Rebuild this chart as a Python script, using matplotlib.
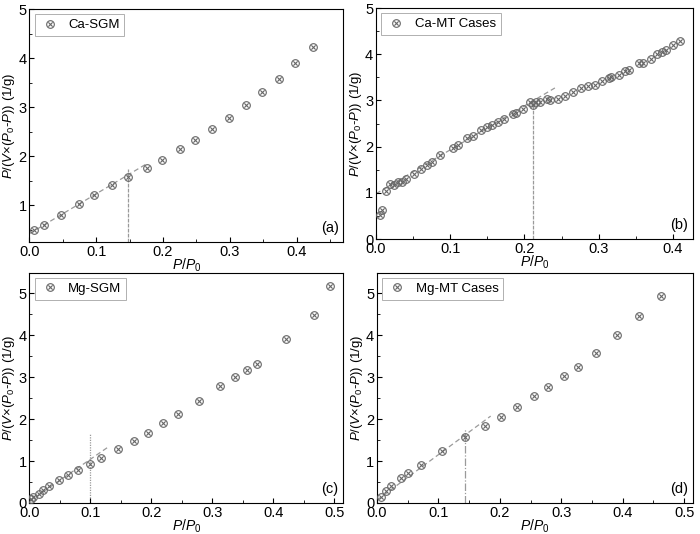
import numpy as np
import matplotlib
matplotlib.use('Agg')
import matplotlib.pyplot as plt
from matplotlib.path import Path

plt.rcParams['font.family'] = ['Liberation Sans', 'DejaVu Sans']
plt.rcParams['mathtext.fontset'] = 'custom'
plt.rcParams['mathtext.rm'] = 'Liberation Sans'
plt.rcParams['mathtext.it'] = 'Liberation Sans:italic'

#%% DATA
ca_sgm_x = [0.0075, 0.022, 0.047, 0.074, 0.097, 0.123, 0.147, 0.176, 0.199, 0.225,
            0.248, 0.274, 0.299, 0.325, 0.348, 0.373, 0.397, 0.424]
ca_sgm_y = [0.50, 0.59, 0.80, 1.03, 1.21, 1.42, 1.58, 1.75, 1.93, 2.14,
            2.32, 2.55, 2.78, 3.05, 3.31, 3.58, 3.89, 4.23]

ca_mt_x = [0.005, 0.0085, 0.013, 0.019, 0.024, 0.030, 0.035, 0.041, 0.051, 0.060,
           0.069, 0.076, 0.086, 0.104, 0.111, 0.123, 0.131, 0.142, 0.149, 0.156,
           0.165, 0.173, 0.184, 0.189, 0.198, 0.207, 0.212, 0.216, 0.221, 0.230,
           0.234, 0.245, 0.254, 0.266, 0.276, 0.286, 0.295, 0.305, 0.314, 0.317,
           0.327, 0.335, 0.341, 0.354, 0.360, 0.370, 0.379, 0.385, 0.391, 0.400, 0.410]
ca_mt_y = [0.51, 0.63, 1.04, 1.19, 1.16, 1.23, 1.24, 1.30, 1.41, 1.51,
           1.61, 1.67, 1.82, 1.98, 2.03, 2.18, 2.24, 2.37, 2.43, 2.47,
           2.53, 2.60, 2.70, 2.73, 2.82, 2.96, 2.89, 2.96, 2.97, 3.03,
           3.01, 3.04, 3.09, 3.18, 3.27, 3.31, 3.34, 3.41, 3.49, 3.50,
           3.56, 3.63, 3.66, 3.80, 3.82, 3.89, 4.01, 4.05, 4.09, 4.19, 4.29]

mg_sgm_x = [0.003, 0.006, 0.016, 0.023, 0.033, 0.049, 0.064, 0.080, 0.099, 0.118,
            0.145, 0.172, 0.195, 0.220, 0.244, 0.278, 0.313, 0.337, 0.357, 0.374,
            0.421, 0.467, 0.493]
mg_sgm_y = [0.10, 0.14, 0.21, 0.30, 0.41, 0.54, 0.67, 0.79, 0.94, 1.06,
            1.29, 1.48, 1.67, 1.90, 2.12, 2.44, 2.78, 2.99, 3.17, 3.32,
            3.91, 4.48, 5.16]

mg_mt_x = [0.0065, 0.015, 0.023, 0.039, 0.051, 0.071, 0.106, 0.143, 0.176, 0.202,
           0.228, 0.255, 0.278, 0.305, 0.327, 0.357, 0.391, 0.426, 0.462]
mg_mt_y = [0.15, 0.28, 0.40, 0.59, 0.71, 0.91, 1.24, 1.57, 1.84, 2.04,
           2.29, 2.54, 2.77, 3.02, 3.25, 3.57, 4.01, 4.45, 4.92]

# linear BET range: fit line end points and the cut-off P/P0
fit_x = {'a': [0.0, 0.175], 'b': [0.0, 0.241], 'c': [0.0, 0.129], 'd': [0.0, 0.185]}
fit_y = {'a': [0.42, 1.84], 'b': [0.98, 3.27], 'c': [0.04, 1.33], 'd': [0.07, 2.07]}
cut_x = {'a': 0.148, 'b': 0.212, 'c': 0.100, 'd': 0.143}
cut_top = {'a': 1.74, 'b': 2.92, 'c': 1.67, 'd': 1.78}

names = {'a': 'Ca-SGM', 'b': 'Ca-MT Cases', 'c': 'Mg-SGM', 'd': 'Mg-MT Cases'}
xs = {'a': ca_sgm_x, 'b': ca_mt_x, 'c': mg_sgm_x, 'd': mg_mt_x}
ys = {'a': ca_sgm_y, 'b': ca_mt_y, 'c': mg_sgm_y, 'd': mg_mt_y}

#%% circle with a cross marker
circ = Path.unit_circle()
k = 0.55
cross = Path([(-k, -k), (k, k), (-k, k), (k, -k)],
             [Path.MOVETO, Path.LINETO, Path.MOVETO, Path.LINETO])
otimes = Path.make_compound_path(circ, cross)

fig = plt.figure(figsize=(7, 5.34), dpi=100)
pos = {'a': [0.0419, 0.5468, 0.4486, 0.4363],
       'b': [0.5371, 0.5524, 0.4529, 0.4326],
       'c': [0.0419, 0.0581, 0.4486, 0.4307],
       'd': [0.5386, 0.0581, 0.4519, 0.4307]}
lims = {'a': ((0, 0.47), (0.25, 5)), 'b': ((0, 0.427), (0, 5)),
        'c': ((0, 0.515), (0, 5.48)), 'd': ((0, 0.515), (0, 5.48))}
vstyle = {'a': (0, (3, 1)), 'b': (0, (3, 1)), 'c': (0, (1, 1)), 'd': (0, (6, 1.5, 1, 1.5))}

mcol = '#666666'
for key in ['a', 'b', 'c', 'd']:
    ax = fig.add_axes(pos[key])
    ax.plot(fit_x[key], fit_y[key], color='#9a9a9a', lw=0.9, ls=(0, (4, 2.5)), zorder=1)
    ax.plot([cut_x[key], cut_x[key]], [lims[key][1][0], cut_top[key]],
            color='#9a9a9a', lw=0.9, ls=vstyle[key], zorder=1)
    ax.plot(xs[key], ys[key], ls='none', marker=otimes, ms=5.5, mfc='none',
            mec=mcol, mew=0.8, label=names[key], zorder=3)
    ax.set_xlim(*lims[key][0])
    ax.set_ylim(*lims[key][1])
    ax.set_xticks(np.arange(0, lims[key][0][1], 0.1))
    ax.set_xticks(np.arange(0.05, lims[key][0][1], 0.1), minor=True)
    ax.set_yticks(np.arange(0 if key != 'a' else 1, 5.1, 1))
    ax.set_yticks(np.arange(0.5, lims[key][1][1], 1), minor=True)
    ax.xaxis.set_major_formatter(matplotlib.ticker.FormatStrFormatter('%.1f'))
    ax.tick_params(which='both', direction='in', top=False, right=False, labelsize=10.5, pad=2)
    ax.tick_params(which='major', length=3.5, width=0.8)
    ax.tick_params(which='minor', length=2, width=0.6)
    for sp in ax.spines.values():
        sp.set_linewidth(0.8)
    ax.set_xlabel(r'$P$/$P_0$', fontsize=10, labelpad=-1.5)
    ax.set_ylabel(r'$P$/($V$×($P_0$-$P$)) (1/g)', fontsize=9.5, labelpad=1)
    ax.text(0.985, 0.03, '(%s)' % key, transform=ax.transAxes, ha='right', va='bottom', fontsize=10.5)
    leg = ax.legend(loc='upper left', fontsize=9.5, fancybox=False, framealpha=1,
                    edgecolor='#b0b0b0', handlelength=1.6, borderpad=0.35,
                    borderaxespad=0.4, handletextpad=0.6)
    leg.get_frame().set_linewidth(0.7)

plt.savefig('out.png', dpi=100)
